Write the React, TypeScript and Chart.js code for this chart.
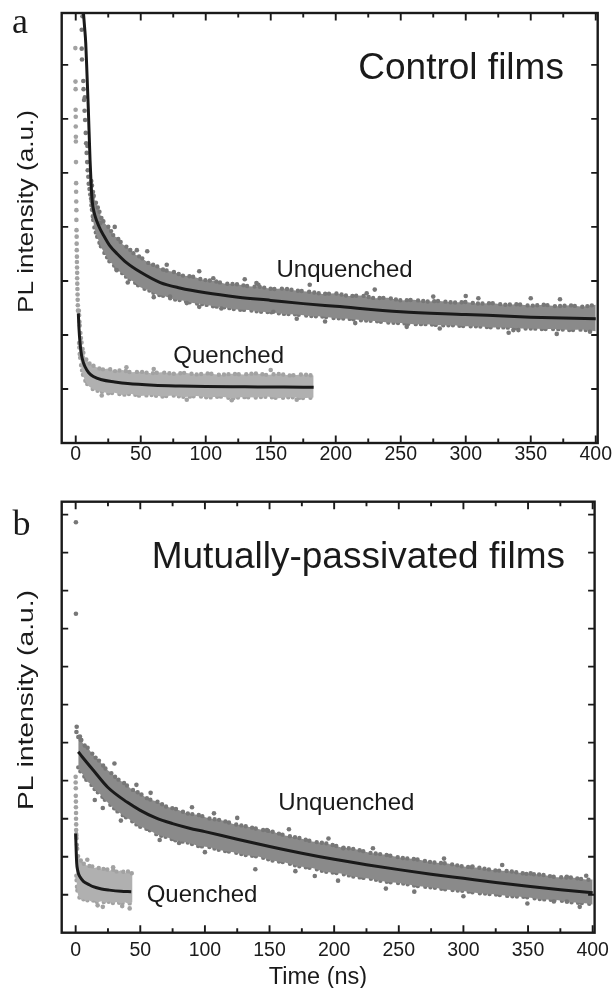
import React, { useEffect, useRef } from 'react';
import { Chart, registerables } from 'chart.js';
Chart.register(...registerables);

// ---------- axes ----------
const X_TICKS = [0, 50, 100, 150, 200, 250, 300, 350, 400];
const X_MINOR = [25, 75, 125, 175, 225, 275, 325, 375];
const YA_TICKS = [1, 2, 3, 4, 5, 6, 7];
const YB_TICKS = [1, 2, 3, 4, 5, 6, 7, 8, 9, 10, 11];

// ---------- panel a: control films ----------
const UQA_T = [12, 14, 16, 18, 20, 23, 26, 29, 32, 36, 40, 45, 50, 56, 62, 68, 75, 82, 90, 98, 106, 115, 124, 133, 142, 151, 160, 170, 180, 190, 200, 210, 220, 230, 240, 250, 260, 270, 280, 290, 300, 310, 320, 330, 340, 350, 360, 370, 380, 390, 400];
const UQA_HI = [4.85, 4.55, 4.42, 4.30, 4.15, 4.05, 3.98, 3.84, 3.80, 3.68, 3.62, 3.50, 3.44, 3.33, 3.28, 3.20, 3.17, 3.10, 3.08, 3.02, 3.00, 2.95, 2.94, 2.90, 2.89, 2.85, 2.86, 2.82, 2.80, 2.76, 2.77, 2.72, 2.73, 2.68, 2.69, 2.64, 2.65, 2.62, 2.63, 2.60, 2.61, 2.58, 2.59, 2.56, 2.57, 2.54, 2.56, 2.53, 2.55, 2.52, 2.56];
const UQA_LO = [4.40, 4.02, 3.85, 3.72, 3.60, 3.48, 3.36, 3.30, 3.20, 3.14, 3.05, 2.98, 2.88, 2.83, 2.75, 2.72, 2.66, 2.64, 2.59, 2.57, 2.53, 2.51, 2.47, 2.46, 2.43, 2.42, 2.39, 2.38, 2.35, 2.34, 2.31, 2.30, 2.27, 2.26, 2.23, 2.22, 2.20, 2.20, 2.18, 2.18, 2.16, 2.16, 2.14, 2.14, 2.12, 2.12, 2.11, 2.11, 2.09, 2.10, 2.07];
const UQA_OUT_T = [13.5, 18.7, 31.5, 47, 70, 72.5, 85.4, 105.8, 112, 139, 140.5, 152, 191.8, 223.8, 254.6, 275, 309.7, 333, 336.6, 340.5, 372.5, 395.6, 30, 55, 95, 130, 180, 230, 300, 350, 40, 60, 95, 170, 215, 280, 370];
const UQA_OUT_Y = [4.56, 4.07, 3.20, 3.57, 3.30, 2.71, 2.59, 3.05, 2.49, 2.96, 2.93, 2.43, 2.25, 2.77, 2.15, 2.71, 2.68, 2.04, 2.09, 2.09, 2.66, 2.06, 4.0, 3.55, 3.18, 3.03, 2.93, 2.84, 2.72, 2.68, 2.97, 2.70, 2.52, 2.30, 2.22, 2.12, 2.02];
const UQA_RISE_T = [4.6, 4.6, 4.8, 5.2, 5.8, 6.0, 6.4, 6.8, 7.0, 7.2, 7.7, 8.0, 8.4, 8.8, 9.0, 9.2, 9.7, 10.0, 10.6, 11.2, 11.8, 12.3];
const UQA_RISE_Y = [7.65, 7.30, 7.10, 7.90, 6.70, 6.55, 6.35, 6.15, 6.40, 5.98, 5.74, 5.55, 5.37, 5.20, 5.50, 5.05, 4.93, 4.80, 4.70, 4.60, 4.52, 4.47];
const QA_RISE_T = [-0.3, -0.2, -0.1, -0.1, 0, 0, 0.1, 0.1, 0.2, 0.3, 0.3, 0.4, 0.5, 0.5, 0.6, 0.7, 0.7, 0.8, 0.9, 0.9, 1.0, 1.1, 1.1, 1.2, 1.3, 1.4, 1.5, 1.6, 1.7];
const QA_RISE_Y = [7.31, 6.69, 6.55, 6.17, 6.04, 5.86, 5.67, 5.58, 5.20, 4.81, 4.65, 4.47, 4.31, 4.13, 3.94, 3.82, 3.69, 3.57, 3.45, 3.35, 3.25, 3.15, 3.05, 2.95, 2.85, 2.75, 2.65, 2.55, 2.45];
const QA_T = [2.5, 3, 4, 5, 6, 8, 10, 13, 16, 20, 25, 30, 36, 42, 50, 58, 66, 75, 84, 93, 102, 111, 120, 129, 138, 147, 156, 165, 174, 183];
const QA_HI = [2.45, 2.2, 1.95, 1.78, 1.66, 1.55, 1.48, 1.44, 1.40, 1.36, 1.38, 1.33, 1.35, 1.31, 1.32, 1.29, 1.31, 1.28, 1.30, 1.27, 1.29, 1.26, 1.28, 1.27, 1.29, 1.26, 1.28, 1.25, 1.27, 1.25];
const QA_LO = [1.85, 1.65, 1.45, 1.32, 1.22, 1.12, 1.05, 1.0, 0.97, 0.95, 0.92, 0.93, 0.89, 0.91, 0.87, 0.89, 0.86, 0.88, 0.85, 0.87, 0.84, 0.86, 0.83, 0.85, 0.84, 0.86, 0.83, 0.85, 0.83, 0.84];
const QA_OUT_T = [39, 85.4, 60, 120, 150, 20, 170];
const QA_OUT_Y = [1.40, 0.80, 1.37, 0.79, 1.35, 0.88, 0.80];
const FIT_UQA_T = [5.8, 6.8, 7.7, 8.7, 9.7, 11, 12, 12.8, 14, 16, 19, 22, 26, 32, 39, 50, 65, 80, 100, 125, 150, 175, 200, 250, 300, 350, 400];
const FIT_UQA_Y = [8.0, 7.7, 7.4, 6.8, 6.17, 5.24, 4.7, 4.45, 4.28, 4.12, 3.95, 3.82, 3.66, 3.50, 3.34, 3.16, 2.97, 2.87, 2.78, 2.70, 2.64, 2.58, 2.53, 2.43, 2.38, 2.33, 2.30];
const FIT_QA_T = [2, 2.5, 3.3, 4.5, 6, 7.2, 10, 13.5, 20, 30, 40, 60, 80, 100, 130, 160, 183];
const FIT_QA_Y = [2.40, 2.12, 1.85, 1.62, 1.48, 1.41, 1.30, 1.23, 1.17, 1.13, 1.10, 1.07, 1.055, 1.045, 1.04, 1.035, 1.03];

// ---------- panel b: mutually-passivated films ----------
const UQB_T = [2, 4, 6, 9, 12, 15, 19, 23, 27, 32, 37, 43, 49, 56, 63, 70, 78, 86, 95, 104, 113, 122, 132, 142, 152, 162, 172, 183, 194, 205, 216, 228, 240, 252, 264, 276, 288, 300, 312, 324, 336, 348, 360, 372, 384, 396, 400];
const UQB_HI = [5.15, 5.10, 4.95, 4.88, 4.75, 4.62, 4.50, 4.32, 4.22, 4.05, 3.95, 3.78, 3.68, 3.52, 3.45, 3.32, 3.25, 3.14, 3.10, 3.00, 2.96, 2.86, 2.80, 2.72, 2.66, 2.56, 2.50, 2.40, 2.35, 2.25, 2.20, 2.10, 2.05, 1.97, 1.93, 1.85, 1.82, 1.74, 1.71, 1.64, 1.62, 1.55, 1.53, 1.46, 1.45, 1.39, 1.40];
const UQB_LO = [4.35, 4.22, 4.15, 3.98, 3.90, 3.76, 3.64, 3.48, 3.36, 3.20, 3.08, 2.95, 2.80, 2.72, 2.58, 2.52, 2.42, 2.38, 2.28, 2.25, 2.16, 2.12, 2.04, 2.00, 1.90, 1.85, 1.75, 1.70, 1.60, 1.56, 1.47, 1.42, 1.34, 1.30, 1.23, 1.19, 1.13, 1.10, 1.04, 1.01, 0.96, 0.94, 0.88, 0.86, 0.80, 0.77, 0.74];
const UQB_OUT_T = [0.2, 0.2, 0.6, 0.8, 3.3, 4, 47, 14.8, 21, 65, 80, 107, 148, 139, 185, 203, 195.6, 207, 262, 352, 380, 349.5, 307, 370, 380, 30, 58, 90, 125, 165, 230, 285, 330, 395, 35, 100, 170, 240, 300, 390];
const UQB_OUT_Y = [10.8, 8.39, 5.28, 5.42, 5.16, 5.07, 3.89, 3.49, 3.28, 2.44, 2.36, 3.14, 2.70, 1.67, 1.49, 1.37, 2.48, 2.22, 1.08, 1.56, 1.47, 0.77, 1.74, 0.82, 0.82, 4.45, 3.68, 3.30, 3.02, 2.72, 2.22, 1.95, 1.78, 1.50, 2.95, 2.12, 1.62, 1.16, 0.96, 0.68];
const QB_RISE_T = [0, 0, 0.1, 0.1, 0.2, 0.2, 0.3, 0.3, 0.4, 0.4, 0.5];
const QB_RISE_Y = [4.1, 3.95, 3.8, 3.6, 3.45, 3.3, 3.15, 3.0, 2.85, 2.7, 2.55];
const QB_T = [0.5, 1, 1.5, 2, 3, 4, 5, 6, 8, 10, 12, 14, 17, 20, 23, 26, 29, 32, 35, 38, 41, 44];
const QB_HI = [2.6, 2.3, 2.1, 2.0, 1.95, 1.9, 1.85, 1.82, 1.78, 1.74, 1.78, 1.70, 1.72, 1.66, 1.70, 1.63, 1.66, 1.60, 1.64, 1.58, 1.62, 1.55];
const QB_LO = [1.5, 1.2, 1.05, 0.98, 0.92, 0.9, 0.86, 0.88, 0.84, 0.86, 0.82, 0.85, 0.80, 0.83, 0.79, 0.82, 0.78, 0.81, 0.77, 0.80, 0.76, 0.80];
const QB_OUT_T = [29, 21, 17, 41.8, 9, 36];
const QB_OUT_Y = [1.72, 0.68, 0.72, 0.64, 1.92, 0.70];
const FIT_UQB_T = [2, 5, 13.5, 25, 40, 50, 62, 75, 88, 100, 125, 150, 175, 200, 225, 250, 275, 300, 325, 350, 375, 400];
const FIT_UQB_Y = [4.76, 4.63, 4.28, 3.82, 3.43, 3.22, 3.02, 2.87, 2.75, 2.66, 2.46, 2.27, 2.09, 1.93, 1.79, 1.66, 1.54, 1.43, 1.32, 1.22, 1.13, 1.05];
const FIT_QB_T = [0, 0.4, 0.8, 1.5, 2.2, 3.3, 6, 10, 13.5, 20, 26, 35, 43];
const FIT_QB_Y = [2.61, 2.15, 1.83, 1.65, 1.55, 1.47, 1.35, 1.27, 1.21, 1.15, 1.12, 1.09, 1.08];

// ---------- styling ----------
const DARK = '#777777';
const DARK_FILL = '#8a8a8a';
const LIGHT = '#a2a2a2';
const LIGHT_FILL = '#b0b0b0';
const INK = '#1a1a1a';
const SANS = "'Liberation Sans', Arial, sans-serif";
const SERIF = "'Liberation Serif', 'Times New Roman', serif";

const pts = (t: number[], y: number[]) => t.map((v, i) => ({ x: v, y: y[i] }));

function band(t: number[], hi: number[], lo: number[], color: string, fillColor: string) {
  const common = {
    type: 'line' as const,
    borderColor: color,
    borderWidth: 4.4,
    borderDash: [0, 4.5, 0, 6.5, 0, 3.8, 0, 7.5, 0, 5.2],
    borderCapStyle: 'round' as const,
    pointRadius: 0,
    tension: 0,
  };
  return [
    { ...common, data: pts(t, hi), fill: '+1', backgroundColor: fillColor },
    { ...common, data: pts(t, lo), fill: false },
  ];
}
function dots(t: number[], y: number[], color: string) {
  return { type: 'scatter' as const, data: pts(t, y), pointRadius: 2.3, pointBackgroundColor: color, pointBorderWidth: 0, showLine: false };
}
function fit(t: number[], y: number[]) {
  return { type: 'line' as const, data: pts(t, y), borderColor: INK, borderWidth: 3, pointRadius: 0, cubicInterpolationMode: 'monotone' as const, fill: false };
}

type TextItem = { text: string; x: number; y: number; font: string; align?: CanvasTextAlign };
type PanelCfg = {
  id: string; top: number; h: number; padTop: number; padBottom: number; yMax: number; yTicks: number[];
  tickPad: number; texts: TextItem[]; yTitle: { cx: number; cy: number; len: number }; datasets: any[];
};

const X_MIN = -10.8;
const X_MAX = 401.5;

const PANELS: PanelCfg[] = [
  {
    id: 'a', top: 0, h: 478, padTop: 13, padBottom: 5, yMax: 7.96, yTicks: YA_TICKS, tickPad: 0,
    texts: [
      { text: 'a', x: 12, y: 33, font: `36px ${SERIF}` },
      { text: 'Control films', x: 358.3, y: 78.5, font: `37px ${SANS}` },
      { text: 'Unquenched', x: 276.5, y: 277.3, font: `24px ${SANS}` },
      { text: 'Quenched', x: 173.3, y: 362.7, font: `24px ${SANS}` },
    ],
    yTitle: { cx: 33.3, cy: 211.5, len: 203 },
    datasets: [
      fit(FIT_UQA_T, FIT_UQA_Y),
      fit(FIT_QA_T, FIT_QA_Y),
      dots(UQA_OUT_T, UQA_OUT_Y, DARK),
      dots(UQA_RISE_T, UQA_RISE_Y, DARK),
      dots(QA_OUT_T, QA_OUT_Y, LIGHT),
      dots(QA_RISE_T, QA_RISE_Y, LIGHT),
      ...band(UQA_T, UQA_HI, UQA_LO, DARK, DARK_FILL),
      ...band(QA_T, QA_HI, QA_LO, LIGHT, LIGHT_FILL),
    ],
  },
  {
    id: 'b', top: 480, h: 508, padTop: 21.7, padBottom: 25.3, yMax: 11.34, yTicks: YB_TICKS, tickPad: 6,
    texts: [
      { text: 'b', x: 12.5, y: 535, font: `36px ${SERIF}` },
      { text: 'Mutually-passivated films', x: 151.7, y: 568.3, font: `37px ${SANS}` },
      { text: 'Unquenched', x: 278.3, y: 810, font: `24px ${SANS}` },
      { text: 'Quenched', x: 146.7, y: 901.7, font: `24px ${SANS}` },
      { text: 'Time (ns)', x: 318, y: 983.5, font: `23.5px ${SANS}`, align: 'center' },
    ],
    yTitle: { cx: 33.3, cy: 700, len: 220 },
    datasets: [
      fit(FIT_UQB_T, FIT_UQB_Y),
      fit(FIT_QB_T, FIT_QB_Y),
      dots(UQB_OUT_T, UQB_OUT_Y, DARK),
      dots(QB_OUT_T, QB_OUT_Y, LIGHT),
      dots(QB_RISE_T, QB_RISE_Y, LIGHT),
      ...band(UQB_T, UQB_HI, UQB_LO, DARK, DARK_FILL),
      ...band(QB_T, QB_HI, QB_LO, LIGHT, LIGHT_FILL),
    ],
  },
];

function framePlugin(cfg: PanelCfg) {
  return {
    id: 'frame_' + cfg.id,
    afterDraw(chart: any) {
      const { ctx, chartArea: a } = chart;
      const x = chart.scales.x;
      const y = chart.scales.y;
      ctx.save();
      ctx.strokeStyle = INK;
      ctx.lineWidth = 2.4;
      ctx.strokeRect(a.left, a.top, a.right - a.left, a.bottom - a.top);
      ctx.lineWidth = 1.9;
      ctx.beginPath();
      for (const v of X_TICKS) {
        const px = x.getPixelForValue(v);
        ctx.moveTo(px, a.bottom); ctx.lineTo(px, a.bottom - 7.5);
        ctx.moveTo(px, a.top); ctx.lineTo(px, a.top + 7.5);
      }
      for (const v of X_MINOR) {
        const px = x.getPixelForValue(v);
        ctx.moveTo(px, a.bottom); ctx.lineTo(px, a.bottom - 4.5);
        ctx.moveTo(px, a.top); ctx.lineTo(px, a.top + 4.5);
      }
      for (const v of cfg.yTicks) {
        const py = y.getPixelForValue(v);
        ctx.moveTo(a.left, py); ctx.lineTo(a.left + 6.5, py);
        ctx.moveTo(a.right, py); ctx.lineTo(a.right - 6.5, py);
      }
      ctx.stroke();

      ctx.fillStyle = INK;
      ctx.textBaseline = 'alphabetic';
      for (const t of cfg.texts) {
        ctx.font = t.font;
        ctx.textAlign = t.align || 'left';
        ctx.fillText(t.text, t.x, t.y - cfg.top);
      }
      // rotated y title
      ctx.save();
      ctx.translate(cfg.yTitle.cx, cfg.yTitle.cy - cfg.top);
      ctx.rotate(-Math.PI / 2);
      ctx.font = `22px ${SANS}`;
      ctx.textAlign = 'center';
      const w = ctx.measureText('PL intensity (a.u.)').width;
      ctx.scale(cfg.yTitle.len / w, 1);
      ctx.fillText('PL intensity (a.u.)', 0, 0);
      ctx.restore();
      ctx.restore();
    },
  };
}

function Panel({ cfg }: { cfg: PanelCfg }) {
  const ref = useRef<HTMLCanvasElement>(null);
  useEffect(() => {
    if (!ref.current) return;
    const chart = new Chart(ref.current, {
      type: 'line',
      data: { datasets: cfg.datasets },
      options: {
        animation: false,
        responsive: false,
        maintainAspectRatio: false,
        layout: { padding: { left: 61.7, right: 615 - 597.7, top: cfg.padTop, bottom: cfg.padBottom } },
        plugins: { legend: { display: false }, tooltip: { enabled: false } },
        elements: { line: { borderJoinStyle: 'round' } },
        scales: {
          x: {
            type: 'linear',
            position: 'bottom',
            min: X_MIN,
            max: X_MAX,
            afterBuildTicks: (s: any) => { s.ticks = X_TICKS.map((v) => ({ value: v })); },
            afterFit: (s: any) => { s.height = 30; },
            grid: { display: false, drawTicks: false },
            border: { display: false },
            ticks: { padding: cfg.tickPad, autoSkip: false, maxRotation: 0, color: INK, font: { family: SANS, size: 19.5 } },
          },
          y: { type: 'linear', min: 0, max: cfg.yMax, display: false },
        },
      } as any,
      plugins: [framePlugin(cfg)],
    });
    return () => chart.destroy();
  }, [cfg]);
  return (
    <canvas
      ref={ref}
      width={615}
      height={cfg.h}
      style={{ position: 'absolute', left: 0, top: cfg.top, width: 615, height: cfg.h }}
    />
  );
}

export default function App() {
  useEffect(() => {
    document.body.style.margin = '0';
    document.body.style.overflow = 'hidden';
  }, []);
  return (
    <div style={{ position: 'absolute', left: 0, top: 0, width: 615, height: 988, background: '#fff', overflow: 'hidden' }}>
      {PANELS.map((p) => (
        <Panel key={p.id} cfg={p} />
      ))}
    </div>
  );
}
